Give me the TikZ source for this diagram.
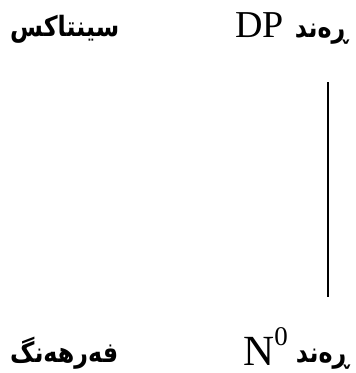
\documentclass[tikz,border=0pt]{standalone}
\usepackage{fontspec}
\setmainfont{Liberation Serif}
\newfontfamily\arabicfont[Script=Arabic, FakeStretch=0.85]{DejaVu Sans}
\TeXXeTstate=1

\begin{document}
\begin{tikzpicture}[x=1pt, y=-1pt,
    kurdish/.style={font=\arabicfont\bfseries\fontsize{28}{32}\selectfont, inner sep=0pt},
    phrase/.style={font=\fontsize{38}{42}\selectfont, inner sep=0pt}]
    \useasboundingbox (0,0) rectangle (356,373);
    % ==== TOP ROW ====
    \node[kurdish, anchor=base west] (syntax) at (10,36) {\beginR سینتاکس\endR};
    \node[phrase, anchor=base west] (dp) at (235,37) {DP};
    \node[kurdish, anchor=base east] (randtop) at (348,37) {\beginR ڕەند\endR};
    % ==== BOTTOM ROW ====
    \node[kurdish, anchor=base west] (lexicon) at (10,362) {\beginR فەرهەنگ\endR};
    \node[phrase, anchor=base west, font=\fontsize{43}{48}\selectfont] (nzero) at (243,365)
        {N\raisebox{20pt}{\fontsize{27}{30}\selectfont 0}};
    \node[kurdish, anchor=base east] (randbot) at (349,362) {\beginR ڕەند\endR};
    % ==== VERTICAL LINE ====
    \coordinate (linetop) at (328,82);
    \coordinate (linebot) at (328,297);
    \draw[line width=1.3pt] (linetop) -- (linebot);
\end{tikzpicture}
\end{document}
